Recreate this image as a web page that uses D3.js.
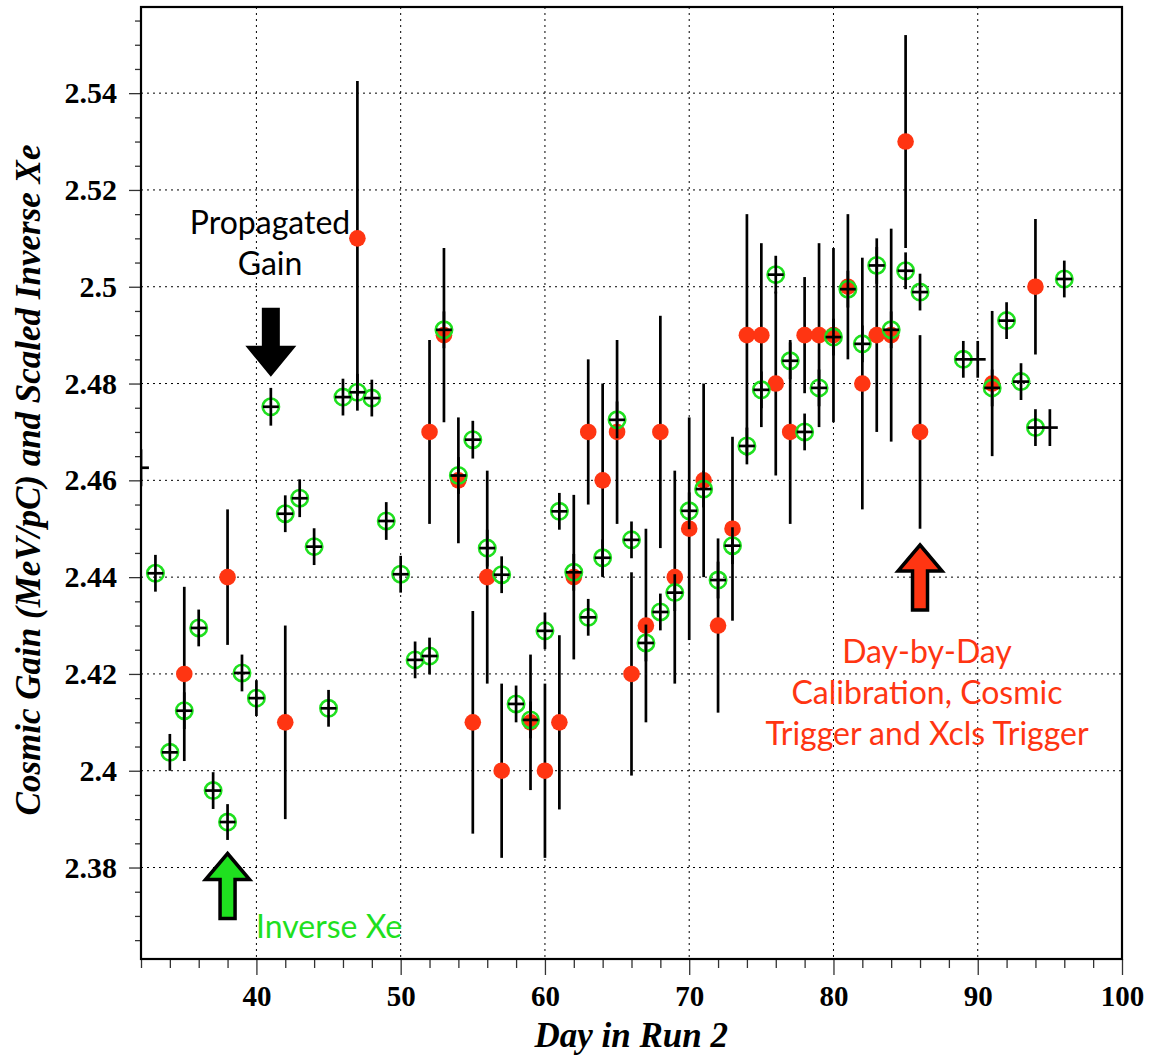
<!DOCTYPE html>
<html>
<head>
<meta charset="utf-8">
<script src="https://cdn.jsdelivr.net/npm/d3@7"></script>
<style>
  html, body { margin: 0; padding: 0; background: #fff; }
  svg { display: block; }
</style>
</head>
<body>
<svg id="chart" width="1157" height="1055"></svg>
<script>
// ---- data ----
// Inverse Xe (green open circles)
const xeDays = [33,34,35,36,37,38,39,40,41,42,43,44,45,46,47,48,49,50,51,52,53,54,55,56,57,58,59,60,61,62,63,64,65,66,67,68,69,70,71,72,73,74,75,76,77,78,79,80,81,82,83,84,85,86,89,91,92,93,94,96];
const xeVals = [2.4408,2.4038,2.4124,2.4295,2.3959,2.3894,2.4202,2.4150,2.4752,2.4531,2.4563,2.4463,2.4129,2.4772,2.4782,2.4770,2.4516,2.4406,2.4229,2.4237,2.4911,2.4610,2.4684,2.4460,2.4405,2.4138,2.4105,2.4289,2.4536,2.4410,2.4317,2.4440,2.4725,2.4477,2.4264,2.4328,2.4368,2.4537,2.4582,2.4394,2.4465,2.4671,2.4787,2.5025,2.4847,2.4700,2.4791,2.4896,2.4995,2.4882,2.5044,2.4911,2.5033,2.4989,2.4850,2.4791,2.4930,2.4804,2.4709,2.5016];

// Propagated gain (black crosses with error bars)
const gainDays = [32,33,34,35,36,37,38,39,40,41,42,43,44,45,46,47,48,49,50,51,52,53,54,55,56,57,58,59,60,61,62,63,64,65,66,67,68,69,70,71,72,73,74,75,76,77,78,79,80,81,82,83,84,85,86,89,90,91,92,93,94,95,96];
const gainVals = [2.4626,2.4408,2.4038,2.4124,2.4295,2.3959,2.3894,2.4202,2.4150,2.4752,2.4531,2.4563,2.4463,2.4129,2.4772,2.4782,2.4770,2.4516,2.4406,2.4229,2.4237,2.4911,2.4610,2.4684,2.4460,2.4405,2.4138,2.4105,2.4289,2.4536,2.4410,2.4317,2.4440,2.4725,2.4477,2.4264,2.4328,2.4368,2.4537,2.4582,2.4394,2.4465,2.4671,2.4787,2.5025,2.4847,2.4700,2.4791,2.4896,2.4995,2.4882,2.5044,2.4911,2.5033,2.4989,2.4850,2.4850,2.4791,2.4930,2.4804,2.4709,2.4709,2.5016];
const gainErr  = [0.0038,0.0038,0.0038,0.0038,0.0038,0.0038,0.0037,0.0038,0.0037,0.0039,0.0038,0.0039,0.0038,0.0038,0.0038,0.0038,0.0038,0.0039,0.0038,0.0038,0.0038,0.0038,0.0038,0.0039,0.0038,0.0038,0.0038,0.0038,0.0038,0.0038,0.0038,0.0038,0.0038,0.0038,0.0038,0.0038,0.0038,0.0038,0.0038,0.0038,0.0038,0.0038,0.0038,0.0038,0.0039,0.0038,0.0038,0.0038,0.0038,0.0038,0.0038,0.0038,0.0038,0.0038,0.0038,0.0038,0.0038,0.0038,0.0038,0.0038,0.0038,0.0038,0.0038];
const gainDayErr = 0.55;

// Day-by-day calibration (red filled circles)
const calDays = [35,38,42,47,52,53,54,55,56,57,59,60,61,62,63,64,65,66,67,68,69,70,71,72,73,74,75,76,77,78,79,80,81,82,83,84,85,86,91,94];
const calVals = [2.42,2.44,2.41,2.51,2.47,2.49,2.46,2.41,2.44,2.40,2.41,2.40,2.41,2.44,2.47,2.46,2.47,2.42,2.43,2.47,2.44,2.45,2.46,2.43,2.45,2.49,2.49,2.48,2.47,2.49,2.49,2.49,2.50,2.48,2.49,2.49,2.53,2.47,2.48,2.50];
const calErr  = [0.018,0.014,0.020,0.0325,0.019,0.018,0.013,0.023,0.022,0.018,0.014,0.018,0.018,0.017,0.015,0.020,0.019,0.021,0.020,0.024,0.022,0.023,0.020,0.018,0.019,0.025,0.019,0.019,0.019,0.012,0.019,0.018,0.015,0.026,0.020,0.022,0.022,0.020,0.015,0.014];

// axis ticks
const xMajorTicks = [40,50,60,70,80,90,100];
const xTickLabels = ["40","50","60","70","80","90","100"];
const yMajorTicks = [2.38,2.40,2.42,2.44,2.46,2.48,2.50,2.52,2.54];
const yTickLabels = ["2.38","2.4","2.42","2.44","2.46","2.48","2.5","2.52","2.54"];
const xDomain = [32, 100];
const yDomain = [2.3611, 2.5578];

// ---- drawing ----
const GREEN = "#1fe01f";
const RED = "#ff3512";
const svg = d3.select("#chart");
const L = 141, R = 1122, T = 7, B = 959;
const x = d3.scaleLinear().domain(xDomain).range([L, R]);
const y = d3.scaleLinear().domain(yDomain).range([B, T]);

// grid
const grid = svg.append("g");
grid.selectAll("line.gx").data(xMajorTicks.filter(d => d < 100)).join("line")
  .attr("x1", d => x(d)).attr("x2", d => x(d)).attr("y1", T).attr("y2", B)
  .attr("stroke", "#000").attr("stroke-width", 1).attr("stroke-dasharray", "2,4");
grid.selectAll("line.gy").data(yMajorTicks).join("line")
  .attr("y1", d => y(d)).attr("y2", d => y(d)).attr("x1", L).attr("x2", R)
  .attr("stroke", "#000").attr("stroke-width", 1).attr("stroke-dasharray", "2,4");

// axes with d3
const xMinor = d3.range(32, 100.001, 2).filter(d => !xMajorTicks.includes(d));
const yMinor = d3.range(2.365, 2.5551, 0.005).filter(v => !yMajorTicks.some(t => Math.abs(t - v) < 1e-6));

const xAxis = d3.axisBottom(x).tickValues(xMajorTicks).tickFormat((d, i) => xTickLabels[i]).tickSizeInner(16).tickSizeOuter(0).tickPadding(10);
const gx = svg.append("g").attr("transform", `translate(0,${B})`).call(xAxis);
gx.select(".domain").remove();
gx.selectAll(".tick line").attr("stroke", "#333").attr("stroke-width", 1.3);
gx.selectAll(".tick text").attr("font-family", "'Liberation Serif', 'Times New Roman', serif")
  .attr("font-weight", "bold").attr("font-size", 29).attr("fill", "#000");
const gxm = svg.append("g").attr("transform", `translate(0,${B})`)
  .call(d3.axisBottom(x).tickValues(xMinor).tickFormat("").tickSizeInner(9).tickSizeOuter(0));
gxm.select(".domain").remove();
gxm.selectAll(".tick line").attr("stroke", "#333").attr("stroke-width", 1.3);

const yAxis = d3.axisLeft(y).tickValues(yMajorTicks).tickFormat((d, i) => yTickLabels[i]).tickSizeInner(12).tickSizeOuter(0).tickPadding(12);
const gy = svg.append("g").attr("transform", `translate(${L},0)`).call(yAxis);
gy.select(".domain").remove();
gy.selectAll(".tick line").attr("stroke", "#333").attr("stroke-width", 1.3);
gy.selectAll(".tick text").attr("font-family", "'Liberation Serif', 'Times New Roman', serif")
  .attr("font-weight", "bold").attr("font-size", 30).attr("fill", "#000");
const gym = svg.append("g").attr("transform", `translate(${L},0)`)
  .call(d3.axisLeft(y).tickValues(yMinor).tickFormat("").tickSizeInner(6).tickSizeOuter(0));
gym.select(".domain").remove();
gym.selectAll(".tick line").attr("stroke", "#333").attr("stroke-width", 1.3);

// clip
svg.append("clipPath").attr("id", "plotclip").append("rect")
  .attr("x", L).attr("y", T).attr("width", R - L).attr("height", B - T);
const plot = svg.append("g").attr("clip-path", "url(#plotclip)");

// red error bars and dots
const cal = calDays.map((d, i) => ({ d, v: calVals[i], e: calErr[i] }));
plot.append("g").selectAll("line").data(cal).join("line")
  .attr("x1", p => x(p.d)).attr("x2", p => x(p.d))
  .attr("y1", p => y(p.v + p.e)).attr("y2", p => y(p.v - p.e))
  .attr("stroke", "#000").attr("stroke-width", 2.7);
plot.append("g").selectAll("circle").data(cal).join("circle")
  .attr("cx", p => x(p.d)).attr("cy", p => y(p.v)).attr("r", 8.3)
  .attr("fill", RED);

// green circles
const xe = xeDays.map((d, i) => ({ d, v: xeVals[i] }));
plot.append("g").selectAll("circle").data(xe).join("circle")
  .attr("cx", p => x(p.d)).attr("cy", p => y(p.v)).attr("r", 8.2)
  .attr("fill", "none").attr("stroke", GREEN).attr("stroke-width", 2.6);

// black crosses
const gain = gainDays.map((d, i) => ({ d, v: gainVals[i], e: gainErr[i] }));
const gc = plot.append("g");
gc.selectAll("line.v").data(gain).join("line").attr("class", "v")
  .attr("x1", p => x(p.d)).attr("x2", p => x(p.d))
  .attr("y1", p => y(p.v + p.e)).attr("y2", p => y(p.v - p.e))
  .attr("stroke", "#000").attr("stroke-width", 2.7);
gc.selectAll("line.h").data(gain).join("line").attr("class", "h")
  .attr("x1", p => x(p.d - gainDayErr)).attr("x2", p => x(p.d + gainDayErr))
  .attr("y1", p => y(p.v)).attr("y2", p => y(p.v))
  .attr("stroke", "#000").attr("stroke-width", 2.7);

// frame
svg.append("rect").attr("x", L).attr("y", T).attr("width", R - L).attr("height", B - T)
  .attr("fill", "none").attr("stroke", "#000").attr("stroke-width", 2.2);

// axis titles
svg.append("text").attr("x", 728).attr("y", 1047).attr("text-anchor", "end")
  .attr("font-family", "'Liberation Serif', 'Times New Roman', serif")
  .attr("font-weight", "bold").attr("font-style", "italic").attr("font-size", 35)
  .text("Day in Run 2");
svg.append("text").attr("transform", "translate(40,480) rotate(-90)").attr("text-anchor", "middle")
  .attr("font-family", "'Liberation Serif', 'Times New Roman', serif")
  .attr("font-weight", "bold").attr("font-style", "italic").attr("font-size", 35)
  .text("Cosmic Gain (MeV/pC) and Scaled Inverse Xe");

// annotations
const annFont = "Lato, 'Open Sans', sans-serif";
const annSize = 32;
function upArrow(cx, tipY, fill) {
  const hh = 26, hw = 22, sw = 7.5, len = 65;
  const p = d3.path();
  p.moveTo(cx, tipY);
  p.lineTo(cx + hw, tipY + hh);
  p.lineTo(cx + sw, tipY + hh);
  p.lineTo(cx + sw, tipY + len);
  p.lineTo(cx - sw, tipY + len);
  p.lineTo(cx - sw, tipY + hh);
  p.lineTo(cx - hw, tipY + hh);
  p.closePath();
  svg.append("path").attr("d", p.toString()).attr("fill", fill)
    .attr("stroke", "#000").attr("stroke-width", 3.5).attr("stroke-linejoin", "miter");
}
// black down arrow (propagated gain)
{
  const cx = x(41), tip = 376.7;
  const p = d3.path();
  p.moveTo(cx, tip);
  p.lineTo(cx + 25.5, tip - 31);
  p.lineTo(cx + 9, tip - 31);
  p.lineTo(cx + 9, tip - 69);
  p.lineTo(cx - 9, tip - 69);
  p.lineTo(cx - 9, tip - 31);
  p.lineTo(cx - 25.5, tip - 31);
  p.closePath();
  svg.append("path").attr("d", p.toString()).attr("fill", "#000");
}
upArrow(x(38), 853.5, GREEN);
upArrow(x(86), 545, RED);

svg.append("text").attr("x", 270).attr("y", 234).attr("text-anchor", "middle")
  .attr("font-family", annFont).attr("font-size", annSize).attr("fill", "#000").text("Propagated");
svg.append("text").attr("x", 270).attr("y", 275).attr("text-anchor", "middle")
  .attr("font-family", annFont).attr("font-size", annSize).attr("fill", "#000").text("Gain");
svg.append("text").attr("x", 256).attr("y", 938).attr("text-anchor", "start")
  .attr("font-family", annFont).attr("font-size", annSize).attr("fill", GREEN).text("Inverse Xe");
const redLines = ["Day-by-Day", "Calibration, Cosmic", "Trigger and Xcls Trigger"];
redLines.forEach((t, i) => {
  svg.append("text").attr("x", 927).attr("y", 663 + i * 40.8).attr("text-anchor", "middle")
    .attr("font-family", annFont).attr("font-size", annSize).attr("fill", RED).text(t);
});
</script>
</body>
</html>
